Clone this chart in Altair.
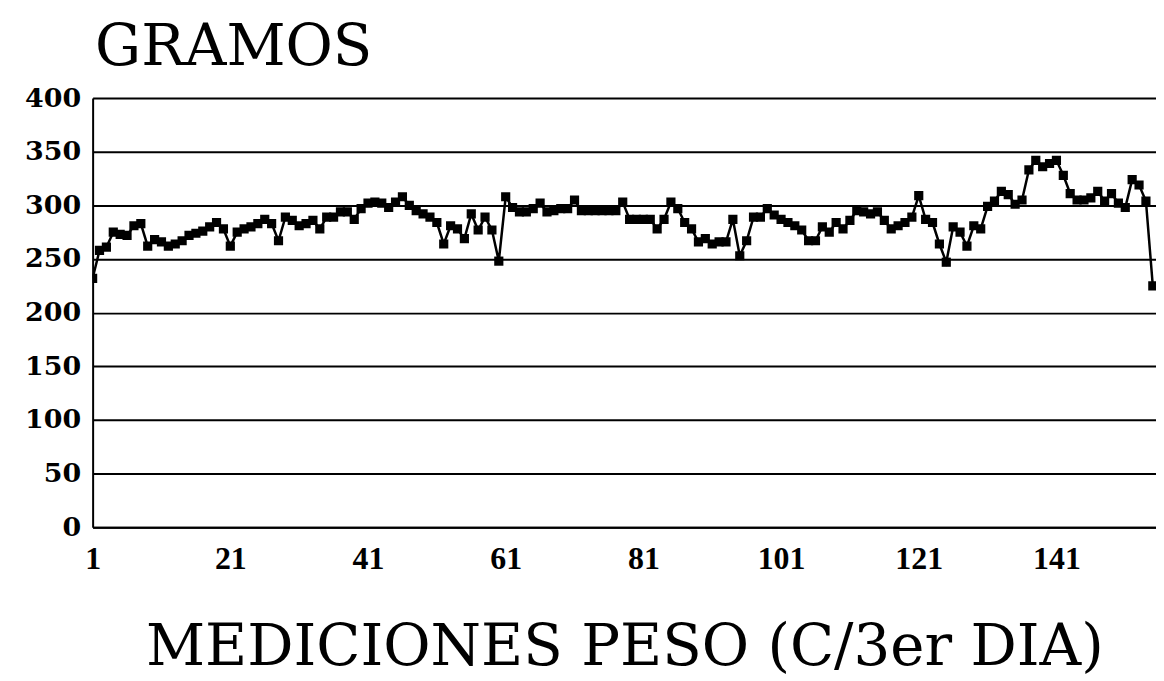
import altair as alt
import pandas as pd

# Weight measurements (grams), one every third day
VALUES = [
    232, 258, 261, 275, 273, 272, 281, 283, 262, 268,
    266, 262, 264, 267, 272, 274, 276, 280, 284, 278,
    262, 275, 278, 280, 283, 287, 283, 267, 289, 286,
    281, 283, 286, 278, 289, 289, 294, 294, 287, 297,
    302, 303, 302, 298, 303, 308, 300, 295, 292, 289,
    284, 264, 281, 278, 269, 292, 277, 289, 277, 248,
    308, 298, 294, 294, 297, 302, 294, 295, 297, 297,
    305, 295, 295, 295, 295, 295, 295, 303, 287, 287,
    287, 287, 278, 287, 303, 297, 284, 278, 266, 269,
    264, 266, 266, 287, 253, 267, 289, 289, 297, 291,
    287, 284, 281, 277, 267, 267, 280, 275, 284, 278,
    286, 295, 294, 292, 294, 286, 278, 281, 284, 289,
    309, 287, 284, 264, 247, 280, 275, 262, 281, 278,
    299, 304, 313, 310, 301, 305, 333, 342, 336, 339,
    342, 328, 311, 305, 305, 307, 313, 304, 311, 302,
    298, 324, 319, 304, 225,
]
X_TICKS = [1, 21, 41, 61, 81, 101, 121, 141]
Y_TICKS = [0, 50, 100, 150, 200, 250, 300, 350, 400]
Y_TITLE = "GRAMOS"
X_TITLE = "MEDICIONES PESO (C/3er DIA)"

df = pd.DataFrame({"medicion": list(range(1, len(VALUES) + 1)), "gramos": VALUES})

W = 1068
H = 431
x_end = 1 + W / (968 / 140)

chart = (
    alt.Chart(df)
    .mark_line(
        color="black",
        strokeWidth=2.5,
        clip=True,
        point=alt.OverlayMarkDef(shape="square", size=85, filled=True, color="black", opacity=1),
    )
    .encode(
        x=alt.X(
            "medicion:Q",
            scale=alt.Scale(domain=[1, x_end], nice=False, zero=False),
            axis=alt.Axis(
                values=X_TICKS,
                grid=False,
                ticks=False,
                domainColor="black",
                domainWidth=2,
                labelPadding=16,
                labelColor="black",
                labelFont="Liberation Serif",
                labelFontSize=32,
                labelFontWeight="bold",
                labelFlush=False,
                title=X_TITLE,
                titleColor="black",
                titleFont="DejaVu Serif",
                titleFontSize=58,
                titleFontWeight="normal",
                titleAlign="center",
                titleBaseline="alphabetic",
                titleX=534,
                titleY=138,
            ),
        ),
        y=alt.Y(
            "gramos:Q",
            scale=alt.Scale(domain=[0, 400], nice=False),
            axis=alt.Axis(
                values=Y_TICKS,
                grid=True,
                gridColor="black",
                gridWidth=2,
                gridOpacity=1,
                ticks=False,
                domainColor="black",
                domainWidth=2,
                labelPadding=12,
                labelColor="black",
                labelFont="DejaVu Serif",
                labelFontSize=27,
                labelFontWeight="bold",
                labelFlush=False,
                title=Y_TITLE,
                titleColor="black",
                titleFont="DejaVu Serif",
                titleFontSize=58,
                titleFontWeight="normal",
                titleAngle=0,
                titleAlign="left",
                titleBaseline="alphabetic",
                titleX=2,
                titleY=-34,
            ),
        ),
    )
    .properties(
        width=W,
        height=H,
        autosize=alt.AutoSizeParams(type="none"),
        padding={"left": 85, "top": 89, "right": 0, "bottom": 150},
    )
    .configure_view(stroke=None)
    .configure(background="white")
)

chart.save("out.html", embed_options={"renderer": "svg", "actions": False})
